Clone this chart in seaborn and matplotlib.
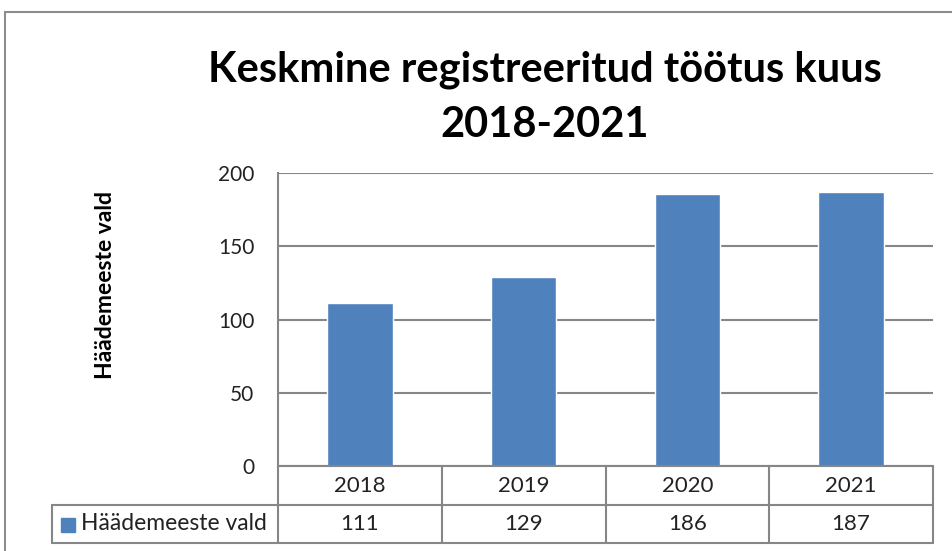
import matplotlib
matplotlib.use("Agg")
import matplotlib.pyplot as plt
import seaborn as sns
import pandas as pd
from matplotlib.lines import Line2D
from matplotlib.patches import Rectangle

sns.set_theme(style="white")
plt.rcParams['font.family'] = ['Lato', 'DejaVu Sans']

# data
years = ["2018", "2019", "2020", "2021"]
values = [111, 129, 186, 187]
series_name = "Häädemeeste vald"
title = "Keskmine registreeritud töötus kuus\n2018-2021"
yticks = [0, 50, 100, 150, 200]

bar_color = "#4F81BD"
line_color = "#868686"
text_color = "#222222"

W, H = 952, 551
fig = plt.figure(figsize=(W / 100, H / 100), dpi=100)

def fx(px):
    return px / W

def fy(py):
    return 1 - py / H

# outer chart frame
fig.patches.append(Rectangle((fx(5), fy(600)), fx(1000), fy(12) - fy(600),
                             transform=fig.transFigure, fill=False,
                             edgecolor="#8c8c8c", lw=1.5))

left, right, top, bottom = 278, 933, 173, 466
ax = fig.add_axes([fx(left), fy(bottom), fx(right) - fx(left), fy(top) - fy(bottom)])

df = pd.DataFrame({"year": years, "value": values})
sns.barplot(data=df, x="year", y="value", color=bar_color, width=0.4,
            saturation=1, ax=ax, zorder=3)

ax.set_ylim(0, 200)
ax.set_xlim(-0.5, len(years) - 0.5)
ax.set_yticks(yticks)
ax.set_yticklabels([str(t) for t in yticks], fontsize=15, color=text_color)
ax.tick_params(axis="y", length=0, pad=17)
ax.set_xticks([])
ax.set_xlabel("")
ax.set_ylabel("")
ax.grid(axis="y", color=line_color, lw=1.5, zorder=0)
for s in ["top", "right", "bottom"]:
    ax.spines[s].set_visible(False)
ax.spines["left"].set_color(line_color)
ax.spines["left"].set_linewidth(1.5)

fig.text(fx(106), fy(285), series_name, rotation=90, ha="center", va="center",
         fontsize=16.5, fontweight="bold", color="black")

fig.text(fx(545), fy(97), title, ha="center", va="center", fontsize=30,
         fontweight="bold", linespacing=1.55, color="black")

# data table under the axis
row1_top, row1_bot, row2_bot = 466, 505, 543
leg_left = 52
cell_w = (right - left) / len(years)
tl = dict(color=line_color, lw=1.5, transform=fig.transFigure)
fig.add_artist(Line2D([fx(left), fx(right)], [fy(row1_top)] * 2, **tl))
fig.add_artist(Line2D([fx(leg_left), fx(right)], [fy(row1_bot)] * 2, **tl))
fig.add_artist(Line2D([fx(leg_left), fx(right)], [fy(row2_bot)] * 2, **tl))
for i in range(len(years) + 1):
    xp = left + i * cell_w
    fig.add_artist(Line2D([fx(xp)] * 2, [fy(row1_top), fy(row2_bot)], **tl))
fig.add_artist(Line2D([fx(leg_left)] * 2, [fy(row1_bot), fy(row2_bot)], **tl))

for i, (yr, v) in enumerate(zip(years, values)):
    xc = left + (i + 0.5) * cell_w
    fig.text(fx(xc), fy((row1_top + row1_bot) / 2), yr, ha="center", va="center",
             fontsize=16, color=text_color)
    fig.text(fx(xc), fy((row1_bot + row2_bot) / 2), str(v), ha="center", va="center",
             fontsize=16, color=text_color)

fig.patches.append(Rectangle((fx(61), fy(532)), fx(14), fy(518) - fy(532),
                             transform=fig.transFigure, color=bar_color))
fig.text(fx(81), fy((row1_bot + row2_bot) / 2), series_name, ha="left", va="center",
         fontsize=16.5, color=text_color)

fig.savefig("out.png", dpi=100)
